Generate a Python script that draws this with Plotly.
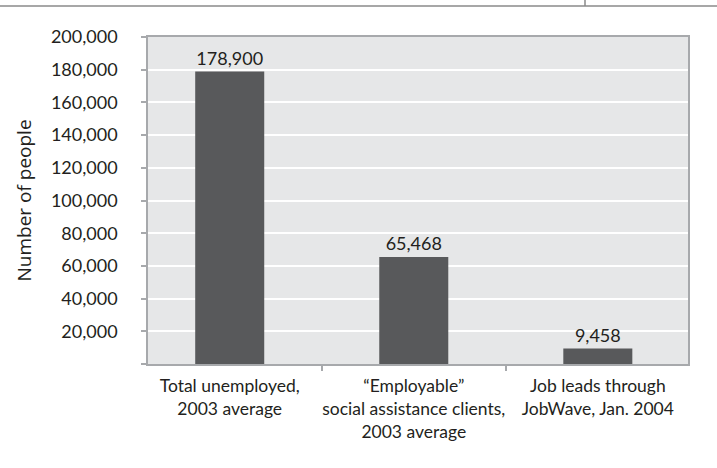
import plotly.graph_objects as go

categories = ["Total unemployed,<br>2003 average",
              "“Employable”<br>social assistance clients,<br>2003 average",
              "Job leads through<br>JobWave, Jan. 2004"]
values = [178900, 65468, 9458]
value_labels = ["178,900", "65,468", "9,458"]
y_tickvals = [0, 20000, 40000, 60000, 80000, 100000, 120000, 140000, 160000, 180000, 200000]
y_ticktext = ["", "20,000", "40,000", "60,000", "80,000", "100,000", "120,000",
              "140,000", "160,000", "180,000", "200,000"]

FONT = "Lato"
TXT = "#231f20"
AX = "#a7a9ac"

fig = go.Figure(go.Bar(
    x=categories, y=values, text=value_labels, textposition="outside",
    textfont=dict(family=FONT, size=18, color=TXT),
    marker=dict(color="#58595b", line=dict(width=0)),
    width=0.375, cliponaxis=False,
))

fig.update_layout(
    width=717, height=468,
    margin=dict(l=148, r=29, t=37, b=104, autoexpand=False),
    paper_bgcolor="white", plot_bgcolor="#e6e7e8",
    showlegend=False,
    font=dict(family=FONT, color=TXT),
    shapes=[
        dict(type="line", xref="paper", yref="paper", x0=-0.3, x1=1.1,
             y0=(364 - 6) / 327, y1=(364 - 6) / 327, line=dict(color="#8a8a8a", width=1.5)),
        dict(type="line", xref="paper", yref="paper", x0=(585 - 148) / 540, x1=(585 - 148) / 540,
             y0=(364 - 6) / 327, y1=1.2, line=dict(color="#8a8a8a", width=1.5)),
    ],
)

fig.update_xaxes(
    range=[-0.444, 2.49], showgrid=False, automargin=False, tickangle=0,
    showline=True, linecolor=AX, linewidth=2, mirror=True,
    ticks="outside", tickson="boundaries", ticklen=5, tickcolor=AX, tickwidth=1.5,
    ticklabelstandoff=5,
    tickfont=dict(family=FONT, size=17.5, color=TXT),
)
fig.update_yaxes(
    range=[0, 200000], tickvals=y_tickvals, ticktext=y_ticktext, automargin=False,
    showgrid=True, gridcolor="white", gridwidth=1.5,
    showline=True, linecolor=AX, linewidth=1.5, mirror=True,
    ticks="outside", ticklen=5, tickcolor=AX, tickwidth=1.5,
    ticklabelstandoff=20,
    tickfont=dict(family=FONT, size=18, color=TXT),
    title=dict(text="Number of people", font=dict(family="Open Sans", size=19, color=TXT), standoff=14),
    zeroline=False,
)

fig.write_html("out.html")
